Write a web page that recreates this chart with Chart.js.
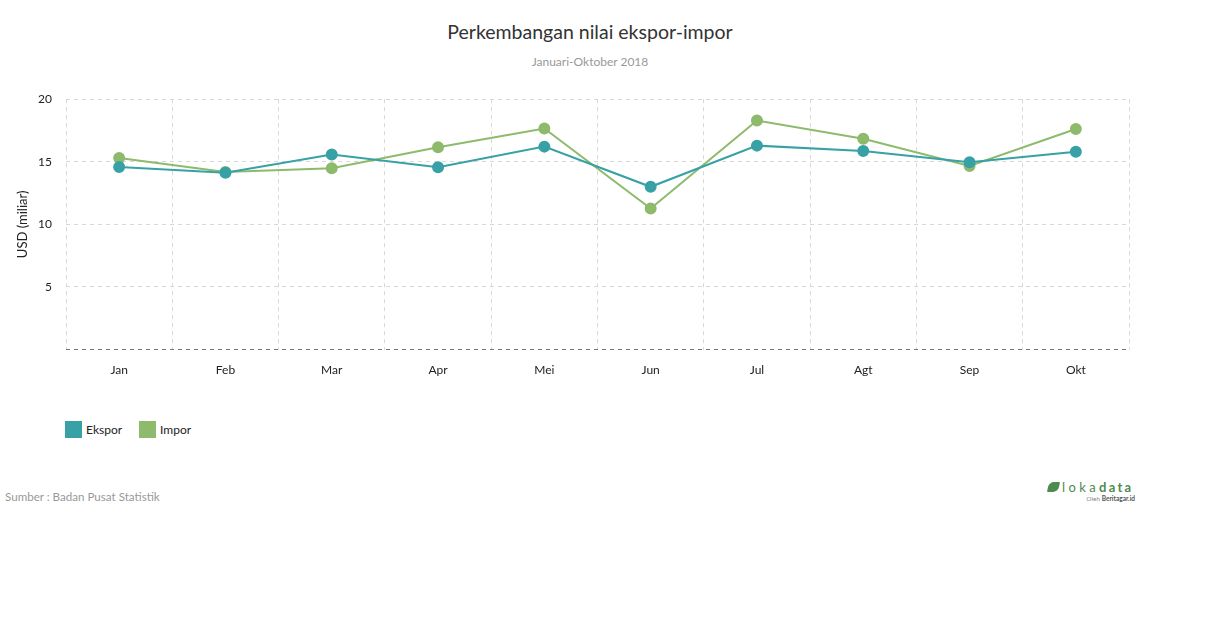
<!DOCTYPE html>
<html>
<head>
<meta charset="utf-8">
<script src="https://cdn.jsdelivr.net/npm/chart.js@4"></script>
<style>
  body { margin: 0; background: #fff; font-family: Lato, sans-serif; }
  #wrap { position: relative; width: 1210px; height: 628px; }
  #title { position: absolute; top: 20px; left: 0; width: 1180px; text-align: center; font-size: 19.5px; color: #333; }
  #subtitle { position: absolute; top: 54px; left: 0; width: 1180px; text-align: center; font-size: 12px; color: #999; }
  #chartBox { position: absolute; left: 0; top: 78px; width: 1210px; height: 307px; }
  #legend { position: absolute; left: 65px; top: 421px; display: flex; font-size: 12px; color: #222; }
  .item { display: flex; align-items: center; margin-right: 17px; }
  .swatch { width: 17px; height: 17px; margin-right: 4px; }
  #source { position: absolute; left: 5px; top: 490px; font-size: 11.6px; color: #999; }
  #logo { position: absolute; left: 1047px; top: 479px; width: 88px; color: #4d8b4f; }
  #logo .name { font-size: 13px; letter-spacing: 3.4px; line-height: 16px; padding-left: 15px; white-space: nowrap; }
  #logo .name b { letter-spacing: 2.2px; }
  #logo .icon { position: absolute; left: 1px; top: 3px; width: 11px; height: 10px; background: #4d8b4f; border-radius: 5px 1px 5px 1px; transform: skewX(-12deg); }
  #logo .by { font-size: 6.5px; color: #888; text-align: right; line-height: 8px; }
  #logo .by b { color: #555; }
</style>
</head>
<body>
<div id="wrap">
  <div id="title">Perkembangan nilai ekspor-impor</div>
  <div id="subtitle">Januari-Oktober 2018</div>
  <div id="chartBox"><canvas id="chart"></canvas></div>
  <div id="legend"></div>
  <div id="source">Sumber : Badan Pusat Statistik</div>
  <div id="logo"><div class="icon"></div><div class="name">loka<b>data</b></div><div class="by">Oleh <b>Beritagar.id</b></div></div>
</div>
<script>
// Data
const months = ['Jan', 'Feb', 'Mar', 'Apr', 'Mei', 'Jun', 'Jul', 'Agt', 'Sep', 'Okt'];
const ekspor = [14.58, 14.13, 15.59, 14.57, 16.21, 13.0, 16.29, 15.87, 14.96, 15.8];
const impor = [15.31, 14.18, 14.49, 16.16, 17.66, 11.26, 18.3, 16.84, 14.67, 17.62];
const yTicks = [5, 10, 15, 20];

const colors = { ekspor: '#37a1a6', impor: '#8dba6b' };

const datasets = [
  { label: 'Ekspor', data: ekspor, borderColor: colors.ekspor, backgroundColor: colors.ekspor },
  { label: 'Impor', data: impor, borderColor: colors.impor, backgroundColor: colors.impor }
].map(d => Object.assign(d, { borderWidth: 2, pointRadius: 5, pointHoverRadius: 5, tension: 0, fill: false }));

// legend
const legend = document.getElementById('legend');
for (const d of datasets) {
  const el = document.createElement('div'); el.className = 'item';
  el.innerHTML = `<span class="swatch" style="background:${d.borderColor}"></span>${d.label}`;
  legend.appendChild(el);
}

Chart.defaults.font.family = 'Lato, sans-serif';
Chart.defaults.color = '#222';

const ctx = document.getElementById('chart').getContext('2d');
const chart = new Chart(ctx, {
  type: 'line',
  data: { labels: months, datasets },
  options: {
    responsive: true,
    maintainAspectRatio: false,
    animation: false,
    layout: { padding: { top: 8, right: 81, left: 15, bottom: 0 } },
    plugins: { legend: { display: false }, tooltip: { enabled: false } },
    scales: {
      x: {
        offset: true,
        grid: { offset: true, color: '#d8d8d8', drawTicks: false },
        border: { display: false, dash: [4, 4] },
        ticks: { padding: 13, font: { size: 12 }, color: '#222' },
        afterFit: s => { s.height = 35.5; }
      },
      y: {
        min: 0, max: 20,
        afterBuildTicks: s => { s.ticks = [0, ...yTicks].map(v => ({ value: v })); },
        grid: { color: c => c.tick && c.tick.value === 0 ? '#777' : '#d8d8d8', drawTicks: false },
        border: { display: false, dash: [4, 4] },
        ticks: { padding: 14, font: { size: 12 }, color: '#222', callback: v => v === 0 ? '' : v },
        title: { display: true, text: 'USD (miliar)', font: { size: 13 }, color: '#222', padding: 0 },
        afterFit: s => { s.width = 51; }
      }
    }
  }
});
</script>
</body>
</html>
